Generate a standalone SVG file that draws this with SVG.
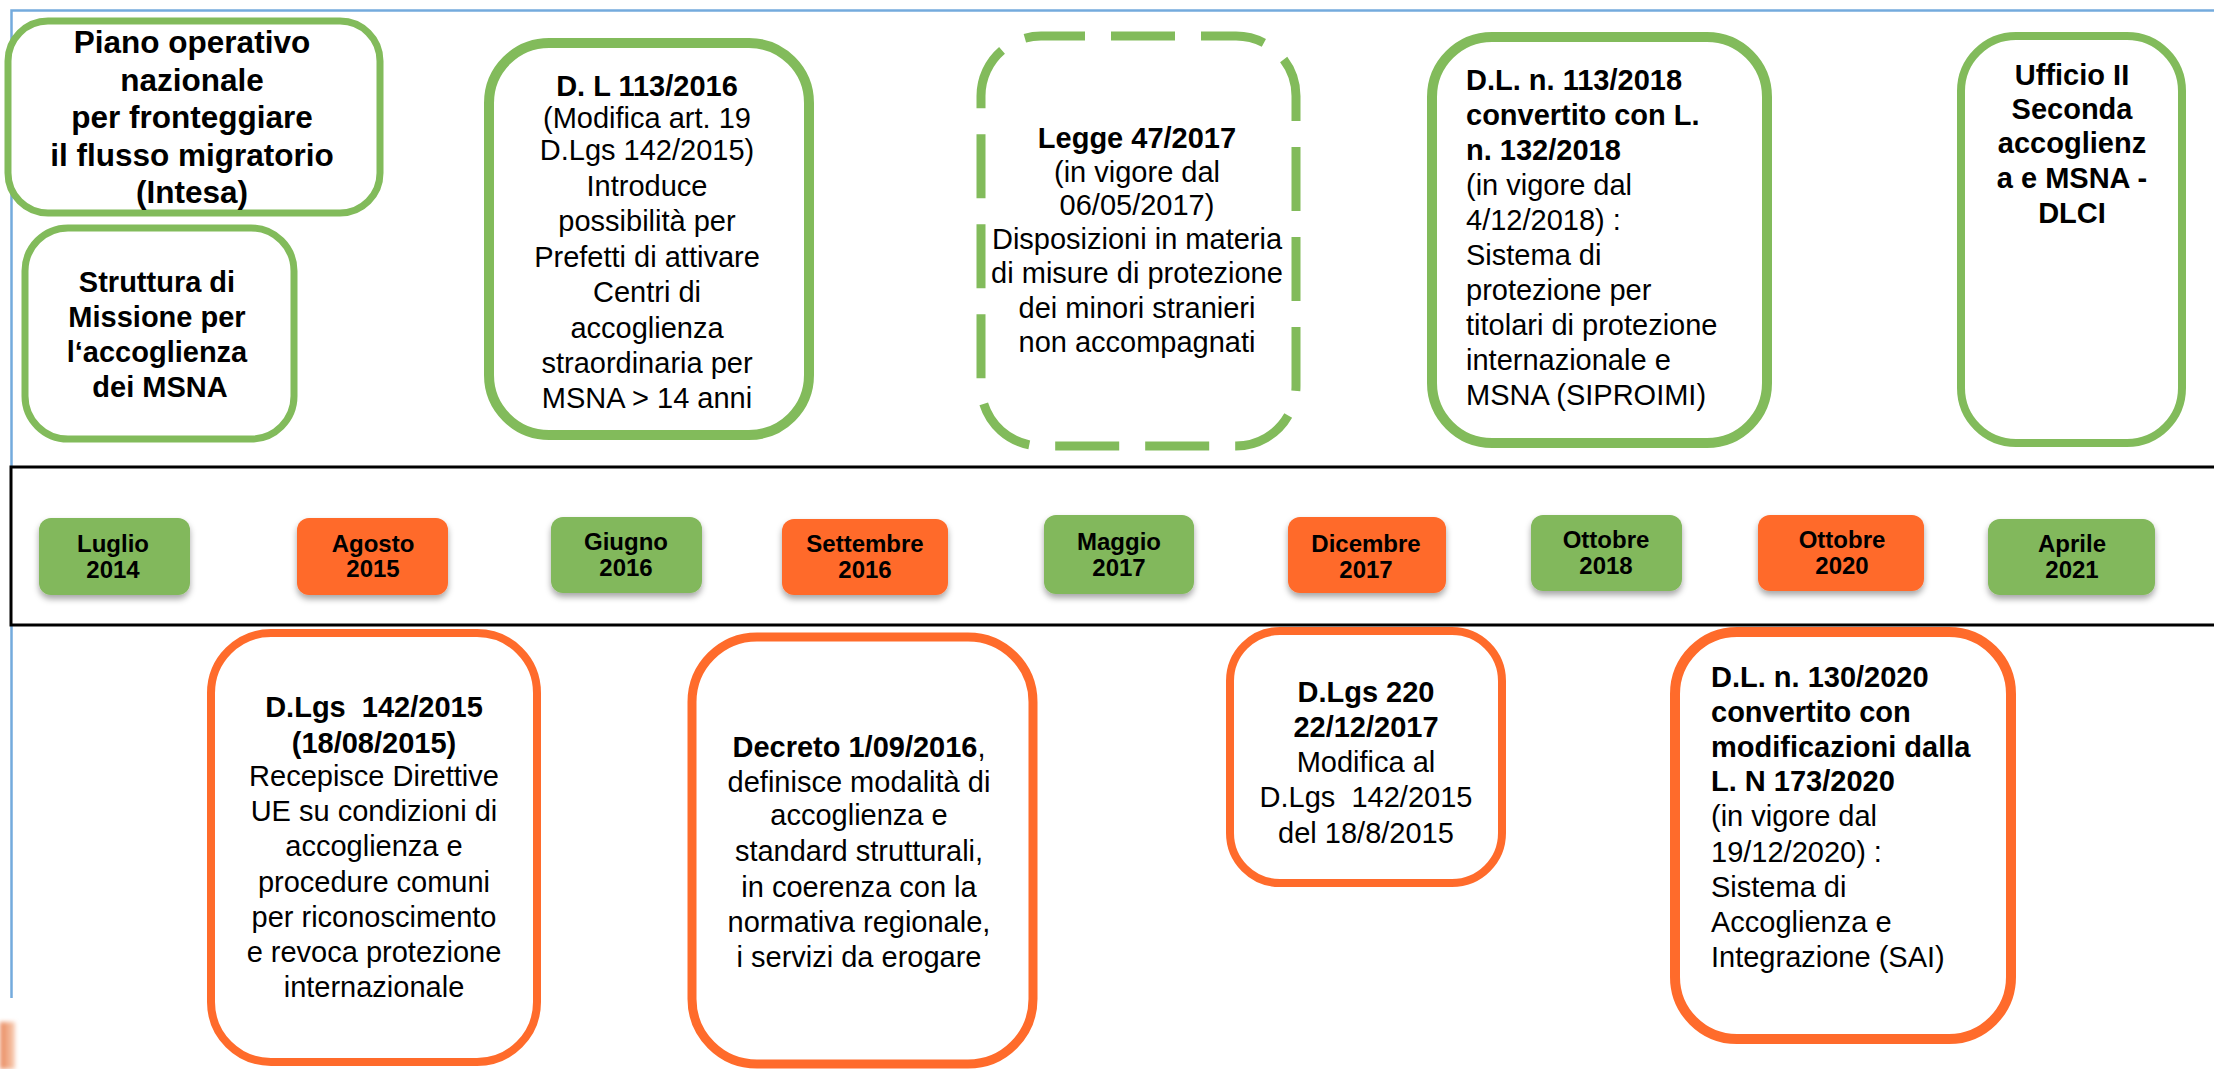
<svg xmlns="http://www.w3.org/2000/svg" width="2214" height="1069" viewBox="0 0 2214 1069">
<defs>
<filter id="shadow" x="-20%" y="-20%" width="140%" height="150%">
<feDropShadow dx="0" dy="4" stdDeviation="3" flood-color="#000" flood-opacity="0.35"/>
</filter>
<filter id="blur" x="-50%" y="-50%" width="200%" height="200%">
<feGaussianBlur stdDeviation="2"/>
</filter>
<linearGradient id="logo" x1="0" y1="0" x2="1" y2="0">
<stop offset="0" stop-color="#E8875A"/>
<stop offset="1" stop-color="#F8CDB4"/>
</linearGradient>
</defs>
<style>
text{font-family:"Liberation Sans",Arial,Helvetica,sans-serif;fill:#000}
.g{fill:#fff;stroke:#82BB5B}
.o{fill:#fff;stroke:#FF6B2B}
.b{font-weight:bold}
.t{font-size:29px}
.c{text-anchor:middle}
.pg{fill:#82B85B}
.po{fill:#FF6B2B}
.p{font-size:24px;font-weight:bold;text-anchor:middle}
</style>
<rect width="2214" height="1069" fill="#fff"/>
<g id="frame">
<path d="M11.5 998 V10.5 H2214" fill="none" stroke="#74ABDD" stroke-width="2.5"/>
<rect x="0" y="1022" width="15" height="47" fill="url(#logo)" filter="url(#blur)"/>
</g>
<g id="band">
<rect x="11" y="467" width="2210" height="158" fill="#fff" stroke="#000" stroke-width="3"/>
</g>

<g id="piano">
<rect class="g" x="8" y="21" width="372" height="192" rx="40" stroke-width="7"/>
<text class="b c" font-size="31.5" x="192"><tspan x="192" y="53">Piano operativo</tspan><tspan x="192" y="90.5">nazionale</tspan><tspan x="192" y="128">per fronteggiare</tspan><tspan x="192" y="165.5">il flusso migratorio</tspan><tspan x="192" y="203">(Intesa)</tspan></text>
</g>
<g id="struttura">
<rect class="g" x="25" y="228" width="269" height="211" rx="43" stroke-width="7"/>
<text class="b c t"><tspan x="157" y="292">Struttura di</tspan><tspan x="157" y="327">Missione per</tspan><tspan x="157" y="362">l‘accoglienza</tspan><tspan x="160" y="397">dei MSNA</tspan></text>
</g>
<g id="dl113-2016">
<rect class="g" x="489" y="43" width="320" height="392" rx="60" stroke-width="10"/>
<text class="c t"><tspan class="b" x="647" y="96">D. L 113/2016</tspan><tspan x="647" y="128">(Modifica art. 19</tspan><tspan x="647" y="160">D.Lgs 142/2015)</tspan><tspan x="647" y="196">Introduce</tspan><tspan x="647" y="231">possibilità per</tspan><tspan x="647" y="267">Prefetti di attivare</tspan><tspan x="647" y="302">Centri di</tspan><tspan x="647" y="338">accoglienza</tspan><tspan x="647" y="373">straordinaria per</tspan><tspan x="647" y="408">MSNA &gt; 14 anni</tspan></text>
</g>
<g id="legge47">
<rect class="g" x="981" y="36" width="315" height="410" rx="60" stroke-width="9" stroke-dasharray="64 26" stroke-dashoffset="20"/>
<text class="c t"><tspan class="b" x="1137" y="148">Legge 47/2017</tspan><tspan x="1137" y="182">(in vigore dal</tspan><tspan x="1137" y="215">06/05/2017)</tspan><tspan x="1137" y="249">Disposizioni in materia</tspan><tspan x="1137" y="283">di misure di protezione</tspan><tspan x="1137" y="318">dei minori stranieri</tspan><tspan x="1137" y="352">non accompagnati</tspan></text>
</g>
<g id="dl113-2018">
<rect class="g" x="1432" y="37" width="335" height="406" rx="60" stroke-width="10"/>
<text class="t"><tspan class="b" x="1466" y="90">D.L. n. 113/2018</tspan><tspan class="b" x="1466" y="125">convertito con L.</tspan><tspan class="b" x="1466" y="160">n. 132/2018</tspan><tspan x="1466" y="195">(in vigore dal</tspan><tspan x="1466" y="230">4/12/2018) :</tspan><tspan x="1466" y="265">Sistema di</tspan><tspan x="1466" y="300">protezione per</tspan><tspan x="1466" y="335">titolari di protezione</tspan><tspan x="1466" y="370">internazionale e</tspan><tspan x="1466" y="405">MSNA (SIPROIMI)</tspan></text>
</g>
<g id="ufficio">
<rect class="g" x="1961" y="36" width="221" height="407" rx="55" stroke-width="8"/>
<text class="b c t"><tspan x="2072" y="85">Ufficio II</tspan><tspan x="2072" y="119">Seconda</tspan><tspan x="2072" y="153">accoglienz</tspan><tspan x="2072" y="188">a e MSNA -</tspan><tspan x="2072" y="223">DLCI</tspan></text>
</g>

<g id="d-luglio2014">
<rect class="pg" x="39" y="518" width="151" height="77" rx="12" filter="url(#shadow)"/>
<text class="p"><tspan x="113" y="552">Luglio</tspan><tspan x="113" y="578">2014</tspan></text>
</g>
<g id="d-agosto2015">
<rect class="po" x="297" y="518" width="151" height="77" rx="12" filter="url(#shadow)"/>
<text class="p"><tspan x="373" y="552">Agosto</tspan><tspan x="373" y="577">2015</tspan></text>
</g>
<g id="d-giugno2016">
<rect class="pg" x="551" y="517" width="151" height="76" rx="12" filter="url(#shadow)"/>
<text class="p"><tspan x="626" y="550">Giugno</tspan><tspan x="626" y="576">2016</tspan></text>
</g>
<g id="d-settembre2016">
<rect class="po" x="782" y="519" width="166" height="76" rx="12" filter="url(#shadow)"/>
<text class="p"><tspan x="865" y="552">Settembre</tspan><tspan x="865" y="578">2016</tspan></text>
</g>
<g id="d-maggio2017">
<rect class="pg" x="1044" y="515" width="150" height="79" rx="12" filter="url(#shadow)"/>
<text class="p"><tspan x="1119" y="550">Maggio</tspan><tspan x="1119" y="576">2017</tspan></text>
</g>
<g id="d-dicembre2017">
<rect class="po" x="1288" y="517" width="158" height="76" rx="12" filter="url(#shadow)"/>
<text class="p"><tspan x="1366" y="552">Dicembre</tspan><tspan x="1366" y="578">2017</tspan></text>
</g>
<g id="d-ottobre2018">
<rect class="pg" x="1531" y="515" width="151" height="76" rx="12" filter="url(#shadow)"/>
<text class="p"><tspan x="1606" y="548">Ottobre</tspan><tspan x="1606" y="574">2018</tspan></text>
</g>
<g id="d-ottobre2020">
<rect class="po" x="1758" y="515" width="166" height="76" rx="12" filter="url(#shadow)"/>
<text class="p"><tspan x="1842" y="548">Ottobre</tspan><tspan x="1842" y="574">2020</tspan></text>
</g>
<g id="d-aprile2021">
<rect class="pg" x="1988" y="519" width="167" height="76" rx="12" filter="url(#shadow)"/>
<text class="p"><tspan x="2072" y="552">Aprile</tspan><tspan x="2072" y="578">2021</tspan></text>
</g>

<g id="dlgs142">
<rect class="o" x="211" y="633" width="326" height="429" rx="60" stroke-width="8"/>
<text class="c t"><tspan class="b" x="374" y="717" xml:space="preserve">D.Lgs  142/2015</tspan><tspan class="b" x="374" y="753">(18/08/2015)</tspan><tspan x="374" y="786">Recepisce Direttive</tspan><tspan x="374" y="821">UE su condizioni di</tspan><tspan x="374" y="856">accoglienza e</tspan><tspan x="374" y="892">procedure comuni</tspan><tspan x="374" y="927">per riconoscimento</tspan><tspan x="374" y="962">e revoca protezione</tspan><tspan x="374" y="997">internazionale</tspan></text>
</g>
<g id="decreto">
<rect class="o" x="692" y="637" width="341" height="427" rx="65" stroke-width="9"/>
<text class="c t"><tspan x="859" y="757"><tspan class="b">Decreto 1/09/2016</tspan>,</tspan><tspan x="859" y="792">definisce modalità di</tspan><tspan x="859" y="825">accoglienza e</tspan><tspan x="859" y="861">standard strutturali,</tspan><tspan x="859" y="897">in coerenza con la</tspan><tspan x="859" y="932">normativa regionale,</tspan><tspan x="859" y="967">i servizi da erogare</tspan></text>
</g>
<g id="dlgs220">
<rect class="o" x="1230" y="631" width="272" height="252" rx="50" stroke-width="8"/>
<text class="c t"><tspan class="b" x="1366" y="702">D.Lgs 220</tspan><tspan class="b" x="1366" y="737">22/12/2017</tspan><tspan x="1366" y="772">Modifica al</tspan><tspan x="1366" y="807" xml:space="preserve">D.Lgs  142/2015</tspan><tspan x="1366" y="843">del 18/8/2015</tspan></text>
</g>
<g id="dl130">
<rect class="o" x="1675" y="632" width="336" height="407" rx="62" stroke-width="10"/>
<text class="t"><tspan class="b" x="1711" y="687">D.L. n. 130/2020</tspan><tspan class="b" x="1711" y="722">convertito con</tspan><tspan class="b" x="1711" y="757">modificazioni dalla</tspan><tspan class="b" x="1711" y="791">L. N 173/2020</tspan><tspan x="1711" y="826">(in vigore dal</tspan><tspan x="1711" y="862">19/12/2020) :</tspan><tspan x="1711" y="897">Sistema di</tspan><tspan x="1711" y="932">Accoglienza e</tspan><tspan x="1711" y="967">Integrazione (SAI)</tspan></text>
</g>
</svg>
